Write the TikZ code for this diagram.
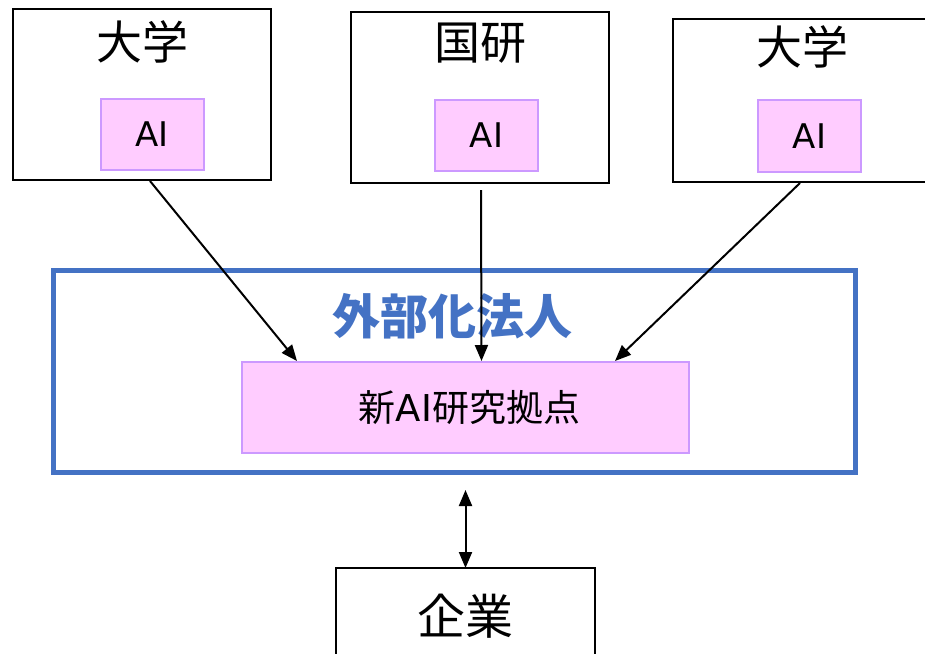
\documentclass[tikz,border=0pt]{standalone}
\usepackage{fontspec}
\setmainfont{Noto Sans CJK JP}
\newfontfamily\dv{DejaVu Sans}
\usetikzlibrary{arrows.meta,calc}
\definecolor{pinkfill}{HTML}{FFCCFF}
\definecolor{pinkline}{HTML}{CC99FF}
\definecolor{blueline}{HTML}{4472C4}
\tikzset{
  orgbox/.style={draw=black, line width=2pt, fill=white, inner sep=0pt, outer sep=0pt, minimum width=258pt, minimum height=171pt},
  aibox/.style={draw=pinkline, line width=2pt, fill=pinkfill, inner sep=0pt, outer sep=0pt, minimum width=103pt, minimum height=71pt, font=\dv\fontsize{34}{40}\selectfont},
  title/.style={inner sep=0pt, font=\fontsize{46}{52}\selectfont},
  arr/.style={line width=2pt, -{Triangle[length=16pt,width=13pt]}},
  darr/.style={line width=2pt, {Triangle[length=16pt,width=13pt]}-{Triangle[length=16pt,width=13pt]}}
}
\begin{document}
\begin{tikzpicture}[x=1pt,y=-1pt]
\useasboundingbox (0,0) rectangle (925,653);
\begin{scope}
\clip (0,0) rectangle (925,653);
% top boxes
\node[orgbox] (uni1) at (142,94.5) {};
\node[orgbox] (kok) at (480,97.5) {};
\node[orgbox, minimum height=163pt] (uni2) at (802,100.5) {};
\node[title] (t1) at (142,42) {大学};
\node[title] (t2) at (480,43) {国研};
\node[title] (t3) at (802,47) {大学};
\node[aibox] (ai1) at (152,134.5) {AI};
\node[aibox] (ai2) at (486.5,135) {AI};
\node[aibox, minimum height=72pt] (ai3) at (809.5,136) {AI};
% outer blue box
\node[draw=blueline, line width=5pt, minimum width=802pt, minimum height=202pt, inner sep=0pt, outer sep=0pt] (ext) at (454,371) {};
\node[inner sep=0pt, text=blueline, font=\bfseries\fontsize{48}{54}\selectfont] (extlabel) at (452,316) {外部化法人};
\node[draw=pinkline, line width=2pt, fill=pinkfill, minimum width=447pt, minimum height=91pt, inner sep=0pt, outer sep=0pt, font=\fontsize{37}{44}\selectfont] (hub) at (465.5,407.5) {\hspace{8pt}新{\dv AI}研究拠点};
% company
\node[orgbox, minimum width=259pt] (kig) at (465.5,653.5) {};
\node[title, font=\fontsize{48}{54}\selectfont] (t4) at (465,616) {企業};
% arrows
\draw[arr] ($(uni1.south)+(8,1)$) -- ($(hub.north west)+(55,-1)$);
\draw[arr] ($(kok.south)+(1,7)$) -- ($(hub.north west)+(239.5,-1)$);
\draw[arr] ($(uni2.south)+(-2,1)$) -- ($(hub.north west)+(373,-1)$);
\draw[darr] ($(kig.north)+(0,-78)$) -- (kig.north);
\end{scope}
\end{tikzpicture}
\end{document}
